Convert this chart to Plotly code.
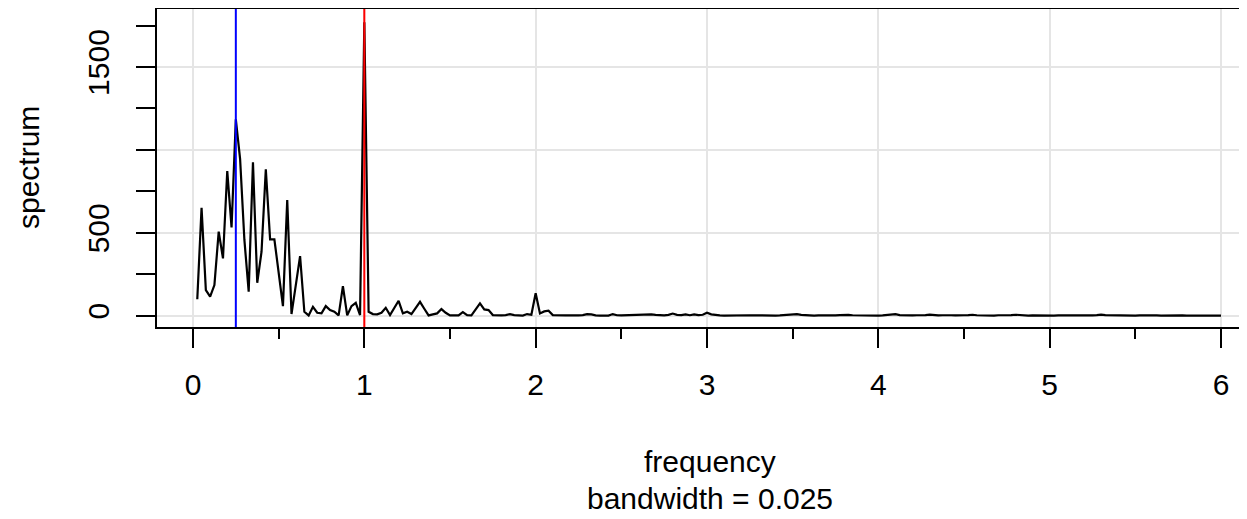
import plotly.graph_objects as go

# Periodogram ordinates (raw spectrum), frequency step 0.025 up to Nyquist 6
freq_step = 0.025
spectrum = [
    99, 651, 155, 115, 185, 507, 346, 873, 533, 1185,
    945, 457, 145, 925, 199, 386, 883, 461, 461, 260,
    58, 698, 10, 185, 360, 24, 2, 54, 18, 14,
    58, 34, 24, 2, 179, 2, 58, 78, 4, 1770,
    24, 10, 8, 18, 48, 4, 46, 90, 14, 24,
    10, 44, 84, 42, 2, 8, 14, 40, 18, 2,
    2, 2, 22, 4, 2, 42, 74, 38, 34, 4,
    2, 2, 4, 10, 4, 4, 1, 10, 6, 135,
    14, 26, 30, 4, 2, 4, 2, 2, 1, 2,
    4, 10, 8, 2, 1, 1, 1, 10, 3, 2,
    3, 2, 4, 2, 3, 6, 8, 5, 3, 2,
    5, 13, 5, 4, 8, 3, 8, 4, 6, 18,
    8, 4, 2, 1, 2, 1, 2, 1, 2, 3,
    2, 1, 2, 3, 2, 1, 2, 3, 5, 6,
    9, 5, 3, 2, 1, 2, 1, 2, 3, 2,
    4, 6, 5, 3, 2, 1, 2, 3, 2, 1,
    2, 3, 5, 9, 4, 2, 1, 2, 3, 2,
    4, 7, 4, 2, 3, 5, 3, 2, 1, 3,
    4, 6, 3, 2, 1, 2, 1, 3, 2, 3,
    4, 6, 3, 2, 1, 2, 1, 2, 3, 2,
    1, 2, 3, 2, 1, 2, 3, 2, 1, 2,
    4, 7, 4, 3, 5, 3, 2, 1, 2, 1,
    2, 3, 2, 1, 2, 1, 2, 3, 2, 1,
    2, 1, 2, 1, 2, 1, 1, 2, 1, 1,
]
frequency = [round(freq_step * (k + 1), 3) for k in range(len(spectrum))]

x_ticks = [0, 1, 2, 3, 4, 5, 6]
y_ticks = [0, 500, 1000, 1500]
y_ticktext = ["0", "500", "", "1500"]
ref_freqs = [0.25, 1.0]
ref_colors = ["#0000FF", "#FF0000"]
bandwidth_label = "bandwidth = 0.025"

FONT = "Liberation Sans, Arial, Helvetica, sans-serif"
FS = 30
TICKFONT = dict(family=FONT, size=FS, color="black")

fig = go.Figure()
fig.add_trace(go.Scatter(x=frequency, y=spectrum, mode="lines",
                         line=dict(color="black", width=2.2), showlegend=False))

for f, c in zip(ref_freqs, ref_colors):
    fig.add_shape(type="line", x0=f, x1=f, xref="x", y0=0, y1=1, yref="paper",
                  line=dict(color=c, width=2), layer="above")

# page body adds an 8px margin: compensate in figure size/margins
fig.update_layout(
    width=1239, height=511,
    margin=dict(l=149, r=0, t=1, b=192, pad=0),
    paper_bgcolor="white", plot_bgcolor="white",
    font=dict(family=FONT, size=FS, color="black"),
    xaxis=dict(range=[-0.2101, 6.1518], tickvals=x_ticks, ticktext=[str(v) for v in x_ticks],
               showgrid=True, gridcolor="#E5E5E5", gridwidth=2, zeroline=False,
               showline=True, linecolor="black", linewidth=2, mirror=True,
               ticks="outside", ticklen=19, tickwidth=2, tickcolor="black",
               ticklabelstandoff=11,
               minor=dict(dtick=0.5, tick0=0, ticks="outside", ticklen=10,
                          tickwidth=2, tickcolor="black", showgrid=False),
               tickfont=TICKFONT),
    yaxis=dict(range=[-68, 1850], tickvals=y_ticks, ticktext=y_ticktext,
               showgrid=True, gridcolor="#E5E5E5", gridwidth=2, zeroline=False,
               showline=True, linecolor="black", linewidth=2, mirror=False,
               ticks="outside", ticklen=19, tickwidth=2, tickcolor="black",
               tickangle=-90, ticklabelstandoff=15,
               minor=dict(dtick=250, tick0=0, ticks="outside", ticklen=19,
                          tickwidth=2, tickcolor="black", showgrid=False),
               tickfont=TICKFONT),
    annotations=[
        dict(text="frequency", xref="paper", yref="paper", x=0.5069, y=-0.4214,
             xanchor="center", yanchor="middle", showarrow=False,
             font=dict(size=FS)),
        dict(text=bandwidth_label, xref="paper", yref="paper", x=0.5069, y=-0.5390,
             xanchor="center", yanchor="middle", showarrow=False,
             font=dict(size=FS)),
        dict(text="spectrum", xref="paper", yref="paper", x=-0.1183, y=0.5,
             xanchor="center", yanchor="middle", textangle=-90, showarrow=False,
             font=dict(size=FS)),
    ],
)

fig.write_html("out.html")
